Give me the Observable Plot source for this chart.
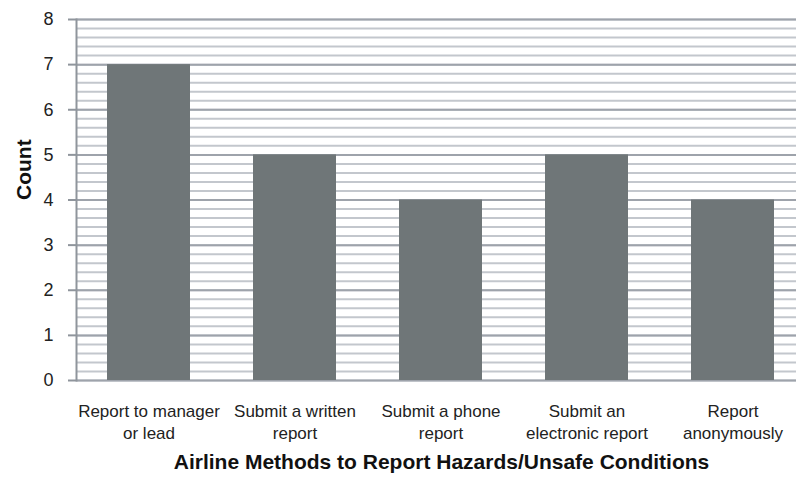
<!DOCTYPE html>
<html><head><meta charset="utf-8">
<script src="https://cdn.jsdelivr.net/npm/d3@7"></script>
<script src="https://cdn.jsdelivr.net/npm/@observablehq/plot@0.6"></script>
<style>
body{margin:0;background:#fff}
svg{font-family:"Liberation Sans",Arial,sans-serif}
</style>
</head><body><div id="chart"></div>
<script>
const categories = ["Report to manager\nor lead", "Submit a written\nreport", "Submit a phone\nreport", "Submit an\nelectronic report", "Report\nanonymously"];
const counts = [7, 5, 4, 5, 4];
const yTicks = [0, 1, 2, 3, 4, 5, 6, 7, 8];
const minorTicks = d3.range(0, 41).map(i => i / 5);
const yTitle = "Count";
const xTitle = "Airline Methods to Report Hazards/Unsafe Conditions";

const data = categories.map((c, i) => ({category: c, count: counts[i]}));

const plot = Plot.plot({
  width: 796, height: 477,
  marginLeft: 76, marginRight: -10, marginTop: 19, marginBottom: 97,
  style: {fontFamily: '"Liberation Sans", Arial, sans-serif', fontSize: "16px", background: "#fff", overflow: "hidden", color: "#222"},
  x: {domain: categories, paddingInner: 0.43, paddingOuter: 0.215, label: null},
  y: {domain: [0, 8], label: null},
  marks: [
    Plot.ruleY(minorTicks, {y: d => d, stroke: "#c3c7cd", strokeWidth: 2}),
    Plot.ruleY(yTicks, {y: d => d, stroke: "#9ea3ab", strokeWidth: 2}),
    Plot.barY(data, {x: "category", y: "count", fill: "#6f7678"}),
    Plot.frame({anchor: "left", stroke: "#8f959c", strokeWidth: 2}),
    Plot.axisY(yTicks, {tickSize: 8, tickPadding: 15, fontSize: 18, stroke: "#8f959c", strokeWidth: 2, strokeOpacity: 1, label: null, fill: "#222"}),
    Plot.axisX({tickSize: 0, tickPadding: 21, fontSize: 17, lineHeight: 1.3, label: null, fill: "#222"}),
    Plot.text([yTitle], {frameAnchor: "left", dx: -52, rotate: -90, lineAnchor: "middle", fontWeight: "bold", fontSize: 21, fill: "#111"}),
    Plot.text([xTitle], {frameAnchor: "bottom", dx: 0, dy: 82, lineAnchor: "middle", fontWeight: "bold", fontSize: 21, fill: "#111"})
  ]
});
document.getElementById("chart").appendChild(plot);
</script>
</body></html>
